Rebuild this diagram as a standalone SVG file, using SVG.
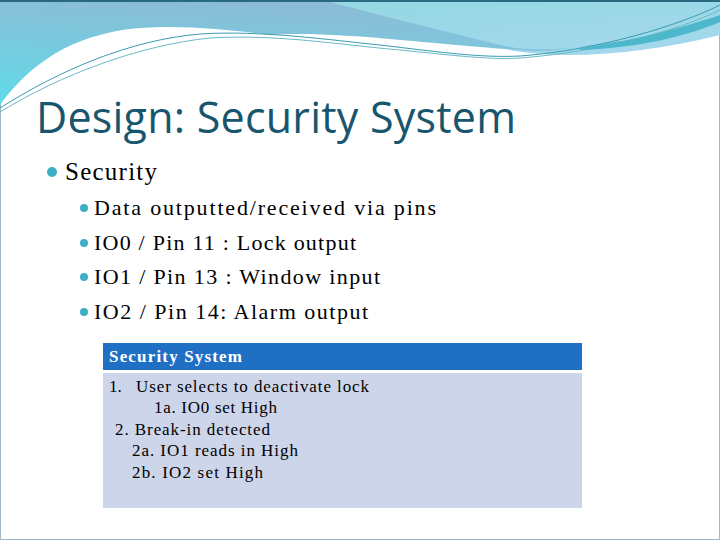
<svg xmlns="http://www.w3.org/2000/svg" width="720" height="540" viewBox="0 0 720 540">
<defs>
<linearGradient id="g1" x1="0" y1="1" x2="0.3" y2="0"><stop offset="0" stop-color="#5fdbe8"/><stop offset="1" stop-color="#8cbcd6"/></linearGradient>
<linearGradient id="g2" x1="0" y1="0" x2="1" y2="1"><stop offset="0" stop-color="#8fd8e0"/><stop offset="1" stop-color="#a6d8ee"/></linearGradient>
<style>
.t{font-family:"Liberation Serif",serif;fill:#000}
.b{fill:#3bb0c4}
</style>
</defs>
<rect width="720" height="540" fill="#fff"/>
<rect x="0.5" y="0.5" width="719" height="539" fill="none" stroke="#9fb7c4"/>
<g id="header">
<path d="M0,0 H325 C330,1 380,20 510,50 C560,60 640,55 720,35 V0 Z" fill="url(#g2)"/>
<path d="M0,0 H325 C350,8 420,25 500,45 C540,55 600,45 640,40 C600,40 560,55 520,50 C440,45 330,30 270,35 C230,30 150,20 100,35 C60,45 25,70 0,105 Z" fill="url(#g1)"/>
<path d="M0,108 C60,70 130,40 200,34 C260,30 330,40 380,45 C440,52 480,58 520,56 C600,50 680,25 720,5" fill="none" stroke="#3a9cb0" stroke-width="1"/>
<path d="M0,112 C60,75 140,45 210,38 C280,34 340,45 400,50 C450,55 490,60 520,58 C600,52 680,30 720,10" fill="none" stroke="#6bb8c8" stroke-width="1"/>
<path d="M580,48 C640,40 690,25 720,15 V22 C690,35 640,48 580,50 Z" fill="#4db8cc"/>
<rect x="0" y="0" width="720" height="2" fill="#2a6a80"/>
</g>
<text x="36" y="133" font-family="'Open Sans','DejaVu Sans',sans-serif" font-size="43" fill="#17566e" textLength="480">Design: Security System</text>
<g id="bullets">
<circle class="b" cx="52" cy="172" r="5"/>
<text class="t" x="65" y="180" font-size="25" textLength="92">Security</text>
<circle class="b" cx="84" cy="208" r="4"/>
<text class="t" x="94" y="215" font-size="22" textLength="342">Data outputted/received via pins</text>
<circle class="b" cx="84" cy="243" r="4"/>
<text class="t" x="94" y="250" font-size="22" textLength="262">IO0 / Pin 11 : Lock output</text>
<circle class="b" cx="84" cy="277" r="4"/>
<text class="t" x="94" y="284" font-size="22" textLength="286">IO1 / Pin 13 : Window input</text>
<circle class="b" cx="84" cy="312" r="4"/>
<text class="t" x="94" y="319" font-size="22" textLength="274">IO2 / Pin 14: Alarm output</text>
</g>
<g id="table">
<rect x="103" y="343" width="479" height="27" fill="#1f6fc5"/>
<rect x="103" y="373" width="479" height="135" fill="#cdd5ea"/>
<text x="109" y="362" font-family="'Liberation Serif',serif" font-size="17" font-weight="bold" fill="#fff" textLength="133">Security System</text>
<g class="t" font-size="17">
<text x="109" y="392">1.</text>
<text x="136" y="392" textLength="233">User selects to deactivate lock</text>
<text x="154" y="413" textLength="123">1a. IO0 set High</text>
<text x="115" y="435" textLength="155">2.  Break-in detected</text>
<text x="132" y="456" textLength="166">2a.  IO1 reads in High</text>
<text x="132" y="478" textLength="131">2b.  IO2 set High</text>
</g>
</g>
</svg>
